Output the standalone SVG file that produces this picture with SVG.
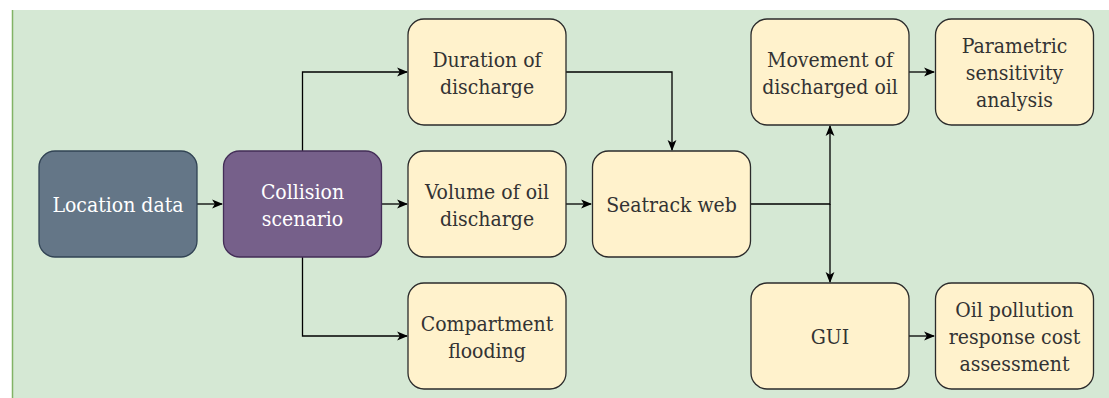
<svg xmlns="http://www.w3.org/2000/svg" width="1109" height="398" viewBox="0 0 1109 398">
  <style>
    .node rect { stroke-width: 1.3; }
    .plain rect { fill: #fff2cc; stroke: #2b2b2b; }
    .label { font-family: "DejaVu Serif Condensed", "DejaVu Serif", serif; font-stretch: condensed; font-size: 21px; text-anchor: middle; fill: #333333; }
    .light { fill: #ffffff; }
    .wire { fill: none; stroke: #000000; stroke-width: 1.3; }
  </style>
  <defs>
    <marker id="arrow" viewBox="0 0 10 10" refX="9" refY="5" markerWidth="11" markerHeight="11" markerUnits="userSpaceOnUse" orient="auto">
      <path d="M0,1 L10,5 L0,9 L2.5,5 Z" fill="#000000"/>
    </marker>
  </defs>

  <!-- backdrop panel -->
  <rect x="12" y="10" width="1100" height="392" fill="#d5e8d4"/>
  <line x1="12.5" y1="10" x2="12.5" y2="398" stroke="#82b366" stroke-width="1.5"/>

  <!-- connectors -->
  <g id="connectors">
    <path class="wire" d="M197,204 H222" marker-end="url(#arrow)"/>
    <path class="wire" d="M302.5,151 V72 H407" marker-end="url(#arrow)"/>
    <path class="wire" d="M382,204 H407" marker-end="url(#arrow)"/>
    <path class="wire" d="M302.5,257 V336 H407" marker-end="url(#arrow)"/>
    <path class="wire" d="M566,72 H672 V150" marker-end="url(#arrow)"/>
    <path class="wire" d="M566,204 H591" marker-end="url(#arrow)"/>
    <path class="wire" d="M751,204 H830 V126" marker-end="url(#arrow)"/>
    <path class="wire" d="M830,204 V282" marker-end="url(#arrow)"/>
    <path class="wire" d="M909,72 H934" marker-end="url(#arrow)"/>
    <path class="wire" d="M909,336 H934" marker-end="url(#arrow)"/>
  </g>

  <!-- nodes -->
  <g id="location-data" class="node">
    <rect x="39" y="151" width="158" height="106" rx="16" fill="#647687" stroke="#314354"/>
    <text class="label light" x="118" y="212">Location data</text>
  </g>
  <g id="collision-scenario" class="node">
    <rect x="223.5" y="151" width="158" height="106" rx="16" fill="#76608a" stroke="#432d57"/>
    <text class="label light" x="302.5" y="198.5">Collision</text>
    <text class="label light" x="302.5" y="225.5">scenario</text>
  </g>
  <g id="duration-of-discharge" class="node plain">
    <rect x="408" y="19" width="158" height="106" rx="16"/>
    <text class="label" x="487" y="66.5">Duration of</text>
    <text class="label" x="487" y="93.5">discharge</text>
  </g>
  <g id="volume-of-oil-discharge" class="node plain">
    <rect x="408" y="151" width="158" height="106" rx="16"/>
    <text class="label" x="487" y="198.5">Volume of oil</text>
    <text class="label" x="487" y="225.5">discharge</text>
  </g>
  <g id="compartment-flooding" class="node plain">
    <rect x="408" y="283" width="158" height="106" rx="16"/>
    <text class="label" x="487" y="330.5">Compartment</text>
    <text class="label" x="487" y="357.5">flooding</text>
  </g>
  <g id="seatrack-web" class="node plain">
    <rect x="592.5" y="151" width="158" height="106" rx="16"/>
    <text class="label" x="671.5" y="212">Seatrack web</text>
  </g>
  <g id="movement-of-discharged-oil" class="node plain">
    <rect x="751" y="19" width="158" height="106" rx="16"/>
    <text class="label" x="830" y="66.5">Movement of</text>
    <text class="label" x="830" y="93.5">discharged oil</text>
  </g>
  <g id="parametric-sensitivity-analysis" class="node plain">
    <rect x="935.5" y="19" width="158" height="106" rx="16"/>
    <text class="label" x="1014.5" y="53">Parametric</text>
    <text class="label" x="1014.5" y="80">sensitivity</text>
    <text class="label" x="1014.5" y="107">analysis</text>
  </g>
  <g id="gui" class="node plain">
    <rect x="751" y="283" width="158" height="106" rx="16"/>
    <text class="label" x="830" y="344">GUI</text>
  </g>
  <g id="oil-pollution-response-cost-assessment" class="node plain">
    <rect x="935.5" y="283" width="158" height="106" rx="16"/>
    <text class="label" x="1014.5" y="317">Oil pollution</text>
    <text class="label" x="1014.5" y="344">response cost</text>
    <text class="label" x="1014.5" y="371">assessment</text>
  </g>
</svg>
